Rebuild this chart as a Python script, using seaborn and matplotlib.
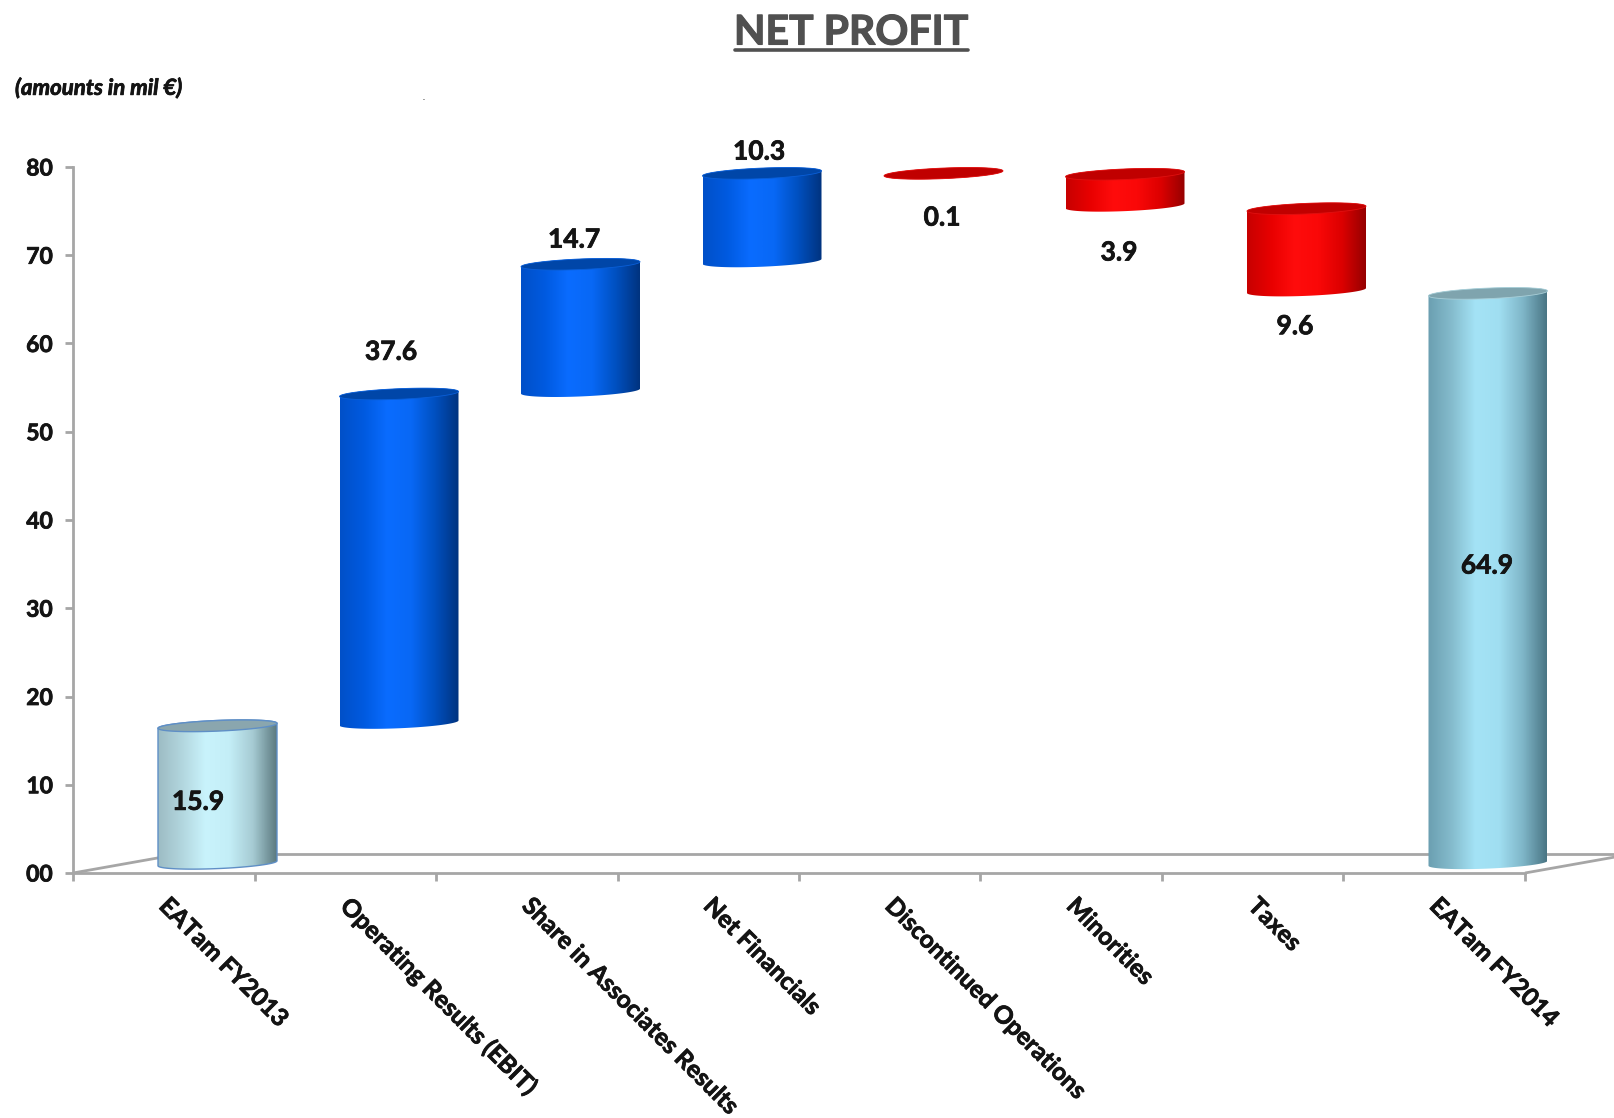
import numpy as np
import pandas as pd
import matplotlib
matplotlib.use("Agg")
import matplotlib.pyplot as plt
import matplotlib.patheffects as pe
import seaborn as sns
from matplotlib.colors import LinearSegmentedColormap
from matplotlib.lines import Line2D
from matplotlib.patches import PathPatch, Polygon
from matplotlib.path import Path

# ---- data
categories = ["EATam FY2013", "Operating Results (EBIT)", "Share in Associates Results",
              "Net Financials", "Discontinued Operations", "Minorities", "Taxes", "EATam FY2014"]
bar_low = [0.0, 15.9, 53.5, 68.2, 78.4, 74.5, 64.9, 0.0]
bar_high = [15.9, 53.5, 68.2, 78.5, 78.5, 78.4, 74.5, 64.9]
value_labels = ["15.9", "37.6", "14.7", "10.3", "0.1", "3.9", "9.6", "64.9"]
bar_kind = ["start", "up", "up", "up", "down", "down", "down", "end"]
y_ticks = [0, 10, 20, 30, 40, 50, 60, 70, 80]
y_tick_labels = ["00", "10", "20", "30", "40", "50", "60", "70", "80"]

# ---- styles
W, H = 1614, 1118
AX_L, AX_B, AX_T = 73, 873, 167
STEP = 181.5
BAR0 = 217.5
GREY = "#a6a6a6"
INK = "#141414"
gradients = {
    "start": ["#9dbcc4", "#b2d6de", "#c9f3fc", "#c4eef7", "#a6cbd3", "#5c7a80"],
    "up": ["#0050c8", "#005ae0", "#0a6cff", "#0868f5", "#0050c0", "#00337f"],
    "down": ["#c80000", "#e80000", "#ff0c0c", "#fa0808", "#dc0000", "#960000"],
    "end": ["#6b9fb1", "#85bccd", "#a4e3f6", "#a0def1", "#7fb6c8", "#4a7685"],
}
cap_face = {"start": "#8aa6ae", "up": "#0046a8", "down": "#c00000", "end": "#7fa4ae"}
cap_edge = {"start": "#5f8fc6", "up": "#0a5fd8", "down": "#e01010", "end": "#a9cfd8"}
label_anchor = ["mid", "high", "high", "high", "low", "low", "low", "mid"]
label_shift_px = [(-19.5, 1), (-8, 49), (-6.5, 31.5), (-3, 28.6), (-1.5, -36.5), (-6, -37), (-11.5, -26), (-1, 21)]
thick = [pe.withStroke(linewidth=0.55, foreground=INK)]

sns.set_theme(style="white")
plt.rcParams["font.family"] = ["Lato", "DejaVu Sans"]

df = pd.DataFrame({"category": categories, "height": np.subtract(bar_high, bar_low)})

fig = plt.figure(figsize=(W / 100, H / 100), dpi=100, facecolor="white")
ax = fig.add_axes([AX_L / W, 1 - AX_B / H, (W - AX_L) / W, (AX_B - AX_T) / H])
ax.set_facecolor("none")

sns.barplot(data=df, x="category", y="height", order=categories,
            width=119 / STEP, color="white", saturation=1, linewidth=0, errorbar=None, ax=ax)

x_min = (AX_L - BAR0) / STEP
x_max = (W - BAR0) / STEP
ppu = (AX_B - AX_T) / 80.0      # pixels per value unit

OFF = 0.78      # lift from perspective
TILT = 0.28     # ellipse tilt
MINOR = 0.6     # ellipse half height
BASE_LIFT = 0.32  # the foot of a cylinder sits a little above its cap's projection


def ell(cx, cy, hw, t):
    return cx + hw * np.cos(t), cy + OFF + TILT * np.cos(t) + MINOR * np.sin(t)


# floor drawn behind the bars
floor = dict(color=GREY, lw=2.0, solid_capstyle="butt", zorder=0.5, clip_on=False)
depth_px = 107
ax.plot([x_min, x_min + depth_px / STEP], [0, 19 / ppu], **floor)
ax.plot([x_min + depth_px / STEP, x_max], [19 / ppu, 19 / ppu], **floor)
ax.plot([x_min + 8, x_min + 8 + depth_px / STEP], [0, 19 / ppu], **floor)

bars = list(ax.patches)
for i, (bar, kind) in enumerate(zip(bars, bar_kind)):
    bar.set_y(bar_low[i])
    bar.set_alpha(0)
    cx = bar.get_x() + bar.get_width() / 2
    hw = bar.get_width() / 2
    low = bar.get_y()
    high = low + bar.get_height()
    t_low = np.linspace(np.pi, 2 * np.pi, 60)
    t_up = np.linspace(0, np.pi, 60)
    lx, ly = ell(cx, min(low + BASE_LIFT, high), hw, t_low)
    ux, uy = ell(cx, high, hw, t_up)
    pts = np.column_stack([np.r_[lx, ux], np.r_[ly, uy]])
    cmap = LinearSegmentedColormap.from_list(kind, gradients[kind])
    im = ax.imshow(np.linspace(0, 1, 300)[None, :], cmap=cmap, aspect="auto",
                   extent=(cx - hw, cx + hw, low - 2, high + 3), zorder=3,
                   interpolation="bilinear")
    clip = PathPatch(Path(pts, closed=False), transform=ax.transData)
    im.set_clip_path(clip)
    if kind == "start":
        ax.add_patch(Polygon(pts, closed=True, fill=False, edgecolor=cap_edge[kind], lw=1.0,
                             zorder=3.5, clip_on=False))
    t = np.linspace(0, 2 * np.pi, 120)
    ex, ey = ell(cx, high, hw, t)
    ax.add_patch(Polygon(np.column_stack([ex, ey]), closed=True, facecolor=cap_face[kind],
                         edgecolor=cap_edge[kind], lw=0.6 if kind != "start" else 1.0,
                         zorder=4, clip_on=False))

    anchor = {"mid": (low + high) / 2, "high": high, "low": low}[label_anchor[i]]
    dx, dy = label_shift_px[i]
    ax.annotate(value_labels[i], (cx, anchor), xytext=(dx * 0.72, dy * 0.72),
                textcoords="offset points", ha="center", va="center", fontsize=19,
                fontweight="bold", color=INK, zorder=6, annotation_clip=False,
                path_effects=thick)

ax.set_xlim(x_min, x_max)
ax.set_ylim(0, 80)

# axes
for side in ("top", "right"):
    ax.spines[side].set_visible(False)
for side in ("left", "bottom"):
    ax.spines[side].set_color(GREY)
    ax.spines[side].set_linewidth(2.0)
ax.spines["bottom"].set_bounds(x_min, x_min + 8)
ax.grid(False)

ax.set_yticks(y_ticks, labels=y_tick_labels)
ax.tick_params(axis="y", length=5.5, width=2, color=GREY, pad=9, labelsize=16.5, labelcolor=INK, left=True)
ax.set_xticks(x_min + np.arange(9), labels=[""] * 9)
ax.tick_params(axis="x", which="major", length=5.5, width=2, color=GREY, direction="out", bottom=True)
ax.set_xticks(np.arange(8) - 0.255, labels=categories, minor=True)
ax.tick_params(axis="x", which="minor", length=0, pad=15, labelsize=17.6, labelcolor=INK, bottom=True)
ax.set_xlabel("")
ax.set_ylabel("")
for lab in ax.get_yticklabels():
    lab.set_fontweight("bold")
    lab.set_path_effects(thick)
for lab in ax.get_xticklabels(minor=True):
    lab.set_rotation(-45)
    lab.set_ha("left")
    lab.set_va("top")
    lab.set_rotation_mode("anchor")
    lab.set_fontweight("bold")
    lab.set_path_effects(thick)

# titles
fig.text(851 / W, 1 - 33 / H, "NET PROFIT", ha="center", va="center", fontsize=29.5,
         fontweight="bold", color="#505050", path_effects=[pe.withStroke(linewidth=0.8, foreground="#505050")])
fig.add_artist(Line2D([735 / W, 968 / W], [1 - 50 / H, 1 - 50 / H], color="#505050", lw=2.6))
fig.text(15 / W, 1 - 88 / H, "(amounts in mil €)", ha="left", va="center", fontsize=16,
         fontweight="bold", style="italic", color=INK, path_effects=thick)
fig.text(424 / W, 1 - 98 / H, ".", ha="center", va="center", fontsize=6, color=INK)

fig.savefig("out.png", dpi=100)
